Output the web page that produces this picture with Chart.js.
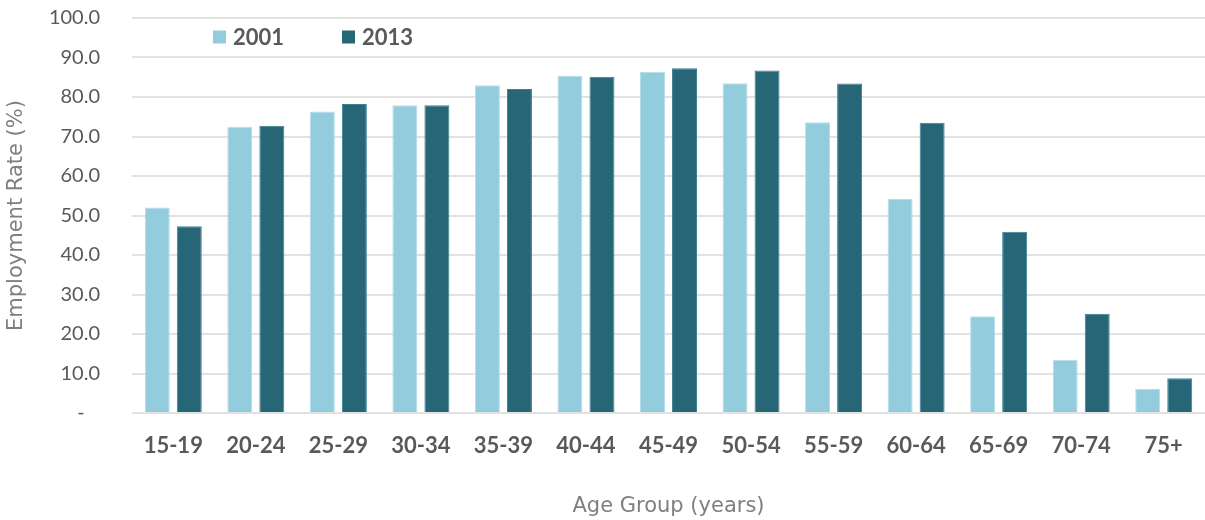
<!DOCTYPE html>
<html>
<head>
<meta charset="utf-8">
<title>Employment Rate by Age Group</title>
<script src="https://cdn.jsdelivr.net/npm/chart.js@4/dist/chart.umd.min.js"></script>
<style>
  html, body { margin: 0; padding: 0; background: #fff; }
  #wrap { width: 1205px; height: 520px; position: relative; }
</style>
</head>
<body>
<div id="wrap"><canvas id="employment-chart" width="1205" height="520"></canvas></div>
<script>
// Age groups along the x axis
const ageGroups = ["15-19", "20-24", "25-29", "30-34", "35-39", "40-44", "45-49",
  "50-54", "55-59", "60-64", "65-69", "70-74", "75+"];

// Employment rate (%) per age group
const rate2001 = [52.0, 72.5, 76.3, 77.9, 83.0, 85.4, 86.4, 83.5, 73.6, 54.2, 24.5, 13.5, 6.1];
const rate2013 = [47.3, 72.7, 78.2, 77.9, 82.0, 85.1, 87.3, 86.7, 83.4, 73.5, 45.9, 25.1, 8.8];

const seriesLabels = ["2001", "2013"];

const textColor = "#595959";
const titleColor = "#7f7f7f";
const gridColor = "#e2e2e2";
const fontFamily = "Lato, 'Open Sans', sans-serif";
const titleFont = "'DejaVu Sans', sans-serif";

/**
 * Legend drawn inside the plot area, above the first few bars
 */
const insideLegend = {
  id: "insideLegend",
  afterDraw(chart) {
    const ctx = chart.ctx;
    const area = chart.chartArea;
    const offsets = [81, 210];
    ctx.save();
    ctx.font = "bold 22px " + fontFamily;
    ctx.textBaseline = "middle";
    ctx.textAlign = "left";
    chart.data.datasets.forEach((ds, i) => {
      const x = area.left + offsets[i];
      const y = 37;
      ctx.fillStyle = ds.backgroundColor;
      ctx.fillRect(x, y - 6.5, 13, 13);
      ctx.fillStyle = textColor;
      ctx.fillText(ds.label, x + 20, y + 1);
    });
    ctx.restore();
  },
};

const ctx = document.getElementById("employment-chart").getContext("2d");

new Chart(ctx, {
  type: "bar",
  data: {
    labels: ageGroups,
    datasets: [
      {
        label: seriesLabels[0],
        data: rate2001,
        backgroundColor: "#93cddd",
        borderColor: "#b4dde8",
        borderWidth: 1,
        categoryPercentage: 0.776,
        barPercentage: 0.78,
      },
      {
        label: seriesLabels[1],
        data: rate2013,
        backgroundColor: "#266677",
        borderColor: "#3a8193",
        borderWidth: 1,
        categoryPercentage: 0.776,
        barPercentage: 0.78,
      },
    ],
  },
  options: {
    responsive: false,
    animation: false,
    layout: {
      padding: { top: 18, right: 0, bottom: 0, left: 0 },
    },
    plugins: {
      legend: { display: false },
      tooltip: { enabled: false },
    },
    scales: {
      x: {
        grid: { display: false },
        border: { display: false },
        ticks: {
          color: textColor,
          padding: 12,
          font: { family: fontFamily, size: 22, weight: "bold" },
        },
        title: {
          display: true,
          text: "Age Group (years)",
          color: titleColor,
          padding: { top: 0, bottom: 1 },
          font: { family: titleFont, size: 21 },
        },
        afterFit: (scale) => {
          scale.height = 107;
        },
      },
      y: {
        min: 0,
        max: 100,
        // transparent tick marks keep the labels clear of the plot
        grid: {
          color: gridColor,
          lineWidth: 2,
          drawTicks: true,
          tickLength: 30,
          tickColor: "rgba(0,0,0,0)",
        },
        border: { display: false },
        ticks: {
          stepSize: 10,
          color: textColor,
          padding: 2,
          font: { family: fontFamily, size: 20 },
          callback: (value) => (value === 0 ? "-   " : value.toFixed(1)),
        },
        title: {
          display: true,
          text: "Employment Rate (%)",
          color: titleColor,
          padding: { top: 4, bottom: 0 },
          font: { family: titleFont, size: 21 },
        },
        afterFit: (scale) => {
          scale.width = 132;
        },
      },
    },
  },
  plugins: [insideLegend],
});
</script>
</body>
</html>
